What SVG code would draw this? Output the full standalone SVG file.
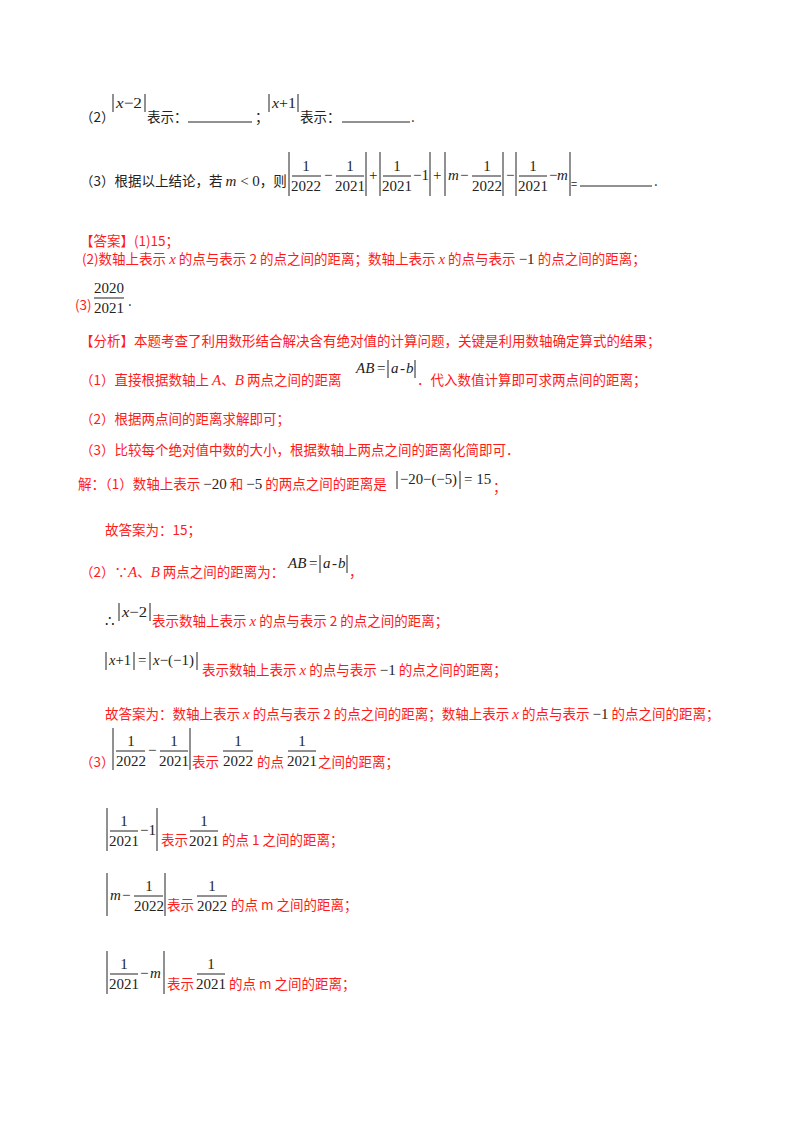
<svg xmlns="http://www.w3.org/2000/svg" width="800" height="1132" viewBox="0 0 800 1132">
<style>
text{font-family:"Noto Sans CJK SC","Liberation Sans",sans-serif;font-size:13.5px;fill:#222}
.r{fill:#ff1a1a}
.m{font-family:"Liberation Serif",serif;font-size:15px;fill:#222}
.i{font-style:italic}
.mr{font-family:"Liberation Serif",serif;font-size:15px;fill:#ff1a1a}
line{stroke:#222;stroke-width:1}
</style>
<rect width="800" height="1132" fill="#fff"/>
<!-- (2) -->
<text x="80" y="122">（2）</text>
<line x1="113" y1="94" x2="113" y2="112"/><text class="m" x="116" y="108" textLength="26" lengthAdjust="spacingAndGlyphs"><tspan class="i">x</tspan>−2</text><line x1="145" y1="94" x2="145" y2="112"/>
<text x="147" y="122">表示：</text><line x1="188" y1="122" x2="252" y2="122"/><text x="255" y="122">；</text>
<line x1="269" y1="94" x2="269" y2="112"/><text class="m" x="272" y="108" textLength="24" lengthAdjust="spacingAndGlyphs"><tspan class="i">x</tspan>+1</text><line x1="298" y1="94" x2="298" y2="112"/>
<text x="300" y="122">表示：</text><line x1="342" y1="122" x2="410" y2="122"/><text x="411" y="122">.</text>
<!-- (3) -->
<text x="80" y="186">（3）根据以上结论，若 <tspan class="m i">m</tspan><tspan class="m"> &lt; 0</tspan>，则</text>
<g>
<line x1="289" y1="152" x2="289" y2="196"/>
<text class="m" x="306" y="171" text-anchor="middle">1</text><line x1="292" y1="176" x2="321" y2="176"/><text class="m" x="306" y="191" text-anchor="middle">2022</text>
<text class="m" x="324" y="180">−</text>
<text class="m" x="350" y="171" text-anchor="middle">1</text><line x1="336" y1="176" x2="364" y2="176"/><text class="m" x="350" y="191" text-anchor="middle">2021</text>
<line x1="366" y1="152" x2="366" y2="196"/>
<text class="m" x="369" y="180">+</text>
<line x1="380" y1="152" x2="380" y2="196"/>
<text class="m" x="397" y="171" text-anchor="middle">1</text><line x1="383" y1="176" x2="411" y2="176"/><text class="m" x="397" y="191" text-anchor="middle">2021</text>
<text class="m" x="413" y="180">−1</text>
<line x1="430" y1="152" x2="430" y2="196"/>
<text class="m" x="433" y="180">+</text>
<line x1="445" y1="152" x2="445" y2="196"/>
<text class="m i" x="448" y="180">m</text><text class="m" x="460" y="180">−</text>
<text class="m" x="487" y="171" text-anchor="middle">1</text><line x1="472" y1="176" x2="501" y2="176"/><text class="m" x="487" y="191" text-anchor="middle">2022</text>
<line x1="503" y1="152" x2="503" y2="196"/>
<text class="m" x="506" y="180">−</text>
<line x1="516" y1="152" x2="516" y2="196"/>
<text class="m" x="533" y="171" text-anchor="middle">1</text><line x1="519" y1="176" x2="547" y2="176"/><text class="m" x="533" y="191" text-anchor="middle">2021</text>
<text class="m" x="549" y="180">−</text><text class="m i" x="557" y="180">m</text>
<line x1="570" y1="152" x2="570" y2="196"/>
</g>
<text x="571" y="188" style="font-size:11px">=</text><line x1="580" y1="186" x2="652" y2="186"/><text x="654" y="186">.</text>
<!-- answers -->
<text class="r" x="80" y="246">【答案】(1)15；</text>
<text class="r" x="82" y="264">(2)数轴上表示 <tspan class="mr" font-style="italic">x</tspan> 的点与表示 2 的点之间的距离；数轴上表示 <tspan class="mr" font-style="italic">x</tspan> 的点与表示 <tspan class="m">−1</tspan> 的点之间的距离；</text>
<text class="r" x="75" y="310">(3)</text>
<text class="m" x="109" y="293" text-anchor="middle">2020</text><line x1="94" y1="298" x2="124" y2="298"/><text class="m" x="109" y="313" text-anchor="middle">2021</text>
<text x="128" y="306">.</text>
<text class="r" x="80" y="346">【分析】本题考查了利用数形结合解决含有绝对值的计算问题，关键是利用数轴确定算式的结果；</text>
<text class="r" x="80" y="385">（1）直接根据数轴上 <tspan class="mr" font-style="italic">A</tspan>、<tspan class="mr" font-style="italic">B</tspan> 两点之间的距离</text>
<text class="m i" x="356" y="373">AB</text><text class="m" x="377" y="373">=</text><line x1="388" y1="360" x2="388" y2="378"/><text class="m i" x="391" y="373">a</text><text class="m" x="400" y="373">-</text><text class="m i" x="406" y="373">b</text><line x1="415" y1="360" x2="415" y2="378"/>
<text class="r" x="417" y="385">．代入数值计算即可求两点间的距离；</text>
<text class="r" x="80" y="424">（2）根据两点间的距离求解即可；</text>
<text class="r" x="80" y="455">（3）比较每个绝对值中数的大小，根据数轴上两点之间的距离化简即可．</text>
<!-- solution -->
<text class="r" x="78" y="489">解：（1）数轴上表示 <tspan class="m">−20</tspan> 和 <tspan class="m">−5</tspan> 的两点之间的距离是</text>
<line x1="397" y1="471" x2="397" y2="489"/><text class="m" x="400" y="484" textLength="57" lengthAdjust="spacingAndGlyphs">−20−(−5)</text><line x1="460" y1="471" x2="460" y2="489"/><text class="m" x="464" y="484">= 15</text>
<text class="r" x="493" y="492">；</text>
<text class="r" x="105" y="535">故答案为：15；</text>
<text class="r" x="80" y="577">（2）∵<tspan class="mr" font-style="italic">A</tspan>、<tspan class="mr" font-style="italic">B</tspan> 两点之间的距离为：</text>
<text class="m i" x="288" y="568">AB</text><text class="m" x="309" y="568">=</text><line x1="320" y1="555" x2="320" y2="573"/><text class="m i" x="323" y="568">a</text><text class="m" x="332" y="568">-</text><text class="m i" x="338" y="568">b</text><line x1="347" y1="555" x2="347" y2="573"/>
<text class="r" x="349" y="577">，</text>
<text class="m" x="105" y="626">∴</text>
<line x1="119" y1="603" x2="119" y2="621"/><text class="m" x="122" y="617" textLength="25" lengthAdjust="spacingAndGlyphs"><tspan class="i">x</tspan>−2</text><line x1="150" y1="603" x2="150" y2="621"/>
<text class="r" x="152" y="626">表示数轴上表示 <tspan class="mr" font-style="italic">x</tspan> 的点与表示 2 的点之间的距离；</text>
<line x1="106" y1="652" x2="106" y2="670"/><text class="m" x="109" y="665" textLength="22" lengthAdjust="spacingAndGlyphs"><tspan class="i">x</tspan>+1</text><line x1="134" y1="652" x2="134" y2="670"/>
<text class="m" x="138" y="665">=</text>
<line x1="150" y1="652" x2="150" y2="670"/><text class="m" x="153" y="665" textLength="41" lengthAdjust="spacingAndGlyphs"><tspan class="i">x</tspan>−(−1)</text><line x1="197" y1="652" x2="197" y2="670"/>
<text class="r" x="202" y="675">表示数轴上表示 <tspan class="mr" font-style="italic">x</tspan> 的点与表示 <tspan class="m">−1</tspan> 的点之间的距离；</text>
<text class="r" x="105" y="719">故答案为：数轴上表示 <tspan class="mr" font-style="italic">x</tspan> 的点与表示 2 的点之间的距离；数轴上表示 <tspan class="mr" font-style="italic">x</tspan> 的点与表示 <tspan class="m">−1</tspan> 的点之间的距离；</text>
<!-- (3) -->
<text class="r" x="80" y="767">（3）</text>
<line x1="113" y1="728" x2="113" y2="770"/>
<text class="m" x="131" y="746" text-anchor="middle">1</text><line x1="116" y1="751" x2="145" y2="751"/><text class="m" x="131" y="766" text-anchor="middle">2022</text>
<text class="m" x="148" y="755">−</text>
<text class="m" x="174" y="746" text-anchor="middle">1</text><line x1="160" y1="751" x2="188" y2="751"/><text class="m" x="174" y="766" text-anchor="middle">2021</text>
<line x1="190" y1="728" x2="190" y2="770"/>
<text class="r" x="192" y="767">表示</text>
<text class="m" x="238" y="746" text-anchor="middle">1</text><line x1="223" y1="751" x2="253" y2="751"/><text class="m" x="238" y="766" text-anchor="middle">2022</text>
<text class="r" x="257" y="767">的点</text>
<text class="m" x="302" y="746" text-anchor="middle">1</text><line x1="288" y1="751" x2="316" y2="751"/><text class="m" x="302" y="766" text-anchor="middle">2021</text>
<text class="r" x="318" y="767">之间的距离；</text>

<line x1="107" y1="808" x2="107" y2="851"/>
<text class="m" x="124" y="826" text-anchor="middle">1</text><line x1="110" y1="831" x2="138" y2="831"/><text class="m" x="124" y="846" text-anchor="middle">2021</text>
<text class="m" x="140" y="835">−1</text>
<line x1="157" y1="808" x2="157" y2="851"/>
<text class="r" x="161" y="845">表示</text>
<text class="m" x="204" y="826" text-anchor="middle">1</text><line x1="190" y1="831" x2="218" y2="831"/><text class="m" x="204" y="846" text-anchor="middle">2021</text>
<text class="r" x="222" y="845">的点 1 之间的距离；</text>

<line x1="107" y1="873" x2="107" y2="916"/>
<text class="m i" x="110" y="900">m</text><text class="m" x="122" y="900">−</text>
<text class="m" x="149" y="891" text-anchor="middle">1</text><line x1="134" y1="896" x2="163" y2="896"/><text class="m" x="149" y="911" text-anchor="middle">2022</text>
<line x1="165" y1="873" x2="165" y2="916"/>
<text class="r" x="167" y="910">表示</text>
<text class="m" x="212" y="891" text-anchor="middle">1</text><line x1="197" y1="896" x2="227" y2="896"/><text class="m" x="212" y="911" text-anchor="middle">2022</text>
<text class="r" x="231" y="910">的点 m 之间的距离；</text>

<line x1="107" y1="951" x2="107" y2="994"/>
<text class="m" x="124" y="969" text-anchor="middle">1</text><line x1="110" y1="974" x2="138" y2="974"/><text class="m" x="124" y="989" text-anchor="middle">2021</text>
<text class="m" x="140" y="978">−</text><text class="m i" x="150" y="978">m</text>
<line x1="164" y1="951" x2="164" y2="994"/>
<text class="r" x="167" y="989">表示</text>
<text class="m" x="211" y="969" text-anchor="middle">1</text><line x1="197" y1="974" x2="225" y2="974"/><text class="m" x="211" y="989" text-anchor="middle">2021</text>
<text class="r" x="229" y="989">的点 m 之间的距离；</text>
</svg>
